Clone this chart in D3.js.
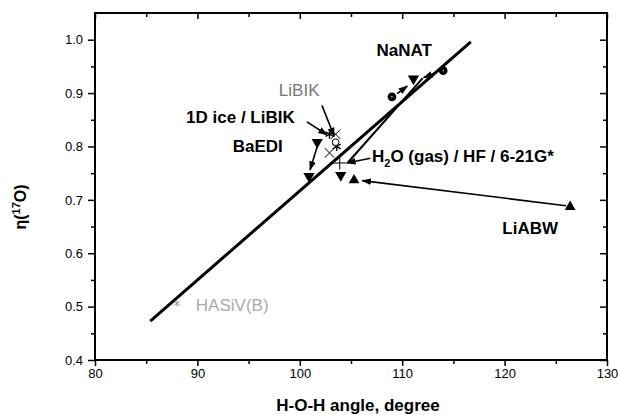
<!DOCTYPE html>
<html>
<head>
<meta charset="utf-8">
<script src="https://cdn.jsdelivr.net/npm/d3@7"></script>
<style>
  body { margin: 0; background: #fff; }
  svg { font-family: "Liberation Sans", Arial, sans-serif; }
</style>
</head>
<body>
<div id="chart"></div>
<script>
// values
const xTicks = [80, 90, 100, 110, 120, 130];
const xMinor = [85, 95, 105, 115, 125];
const yTicks = [0.4, 0.5, 0.6, 0.7, 0.8, 0.9, 1.0];
const yMinor = [0.45, 0.55, 0.65, 0.75, 0.85, 0.95];

const fitLine = [[85.4, 0.473], [116.7, 0.996]];
const calcLine = [[104.7, 0.770], [112.0, 0.928]];

const downTri = [[101.7, 0.808], [100.9, 0.744], [104.0, 0.746], [111.1, 0.927]];
const upTri = [[105.3, 0.737], [126.4, 0.687]];
const dotCircles = [[109.0, 0.893], [114.0, 0.942]];
const asterisks = [[102.9, 0.823], [103.6, 0.800]];
const crosses = [[103.5, 0.823], [102.9, 0.788]];
const openCircles = [[103.5, 0.808]];
const plusPts = [[103.9, 0.769]];
const hasivPts = [[88.0, 0.506]];

const arrows = [
  [[101.7, 0.800], [101.0, 0.756]],
  [[100.7, 0.846], [102.65, 0.822]],
  [[102.16, 0.877], [103.36, 0.819]],
  [[106.9, 0.778], [104.6, 0.769]],
  [[126.0, 0.689], [106.1, 0.736]],
  [[109.5, 0.899], [110.5, 0.913]],
  [[113.4, 0.939], [112.1, 0.929]]
];

const labels = [
  { t: "NaNAT", x: 110.2, y: 0.980, c: "#000", bold: true },
  { t: "LiBIK", x: 99.94, y: 0.905, c: "#777", bold: false },
  { t: "1D ice / LiBIK", x: 94.2, y: 0.855, c: "#000", bold: true },
  { t: "BaEDI", x: 95.9, y: 0.799, c: "#000", bold: true },
  { t: "LiABW", x: 122.5, y: 0.647, c: "#000", bold: true },
  { t: "HASiV(B)", x: 93.4, y: 0.503, c: "#aaa", bold: false }
];

const w = 618;
const h = 415;
const mLeft = 95, mRight = 607, mTop = 13, mBottom = 360;

const x = d3.scaleLinear().domain([80, 130]).range([mLeft, mRight]);
const y = d3.scaleLinear().domain([0.4, 1.05]).range([mBottom, mTop]);

const svg = d3.select('#chart')
  .append('svg')
  .attr('width', w)
  .attr('height', h);

// frame
svg.append('rect')
  .attr('x', mLeft).attr('y', mTop)
  .attr('width', mRight - mLeft).attr('height', mBottom - mTop)
  .attr('fill', 'none').attr('stroke', '#000').attr('stroke-width', 2);

function styleAxis(g) {
  g.select('.domain').remove();
  g.selectAll('line').attr('stroke', '#000').attr('stroke-width', 1.5);
  g.selectAll('text').attr('fill', '#000').style('font-size', '13px');
}

svg.append('g').attr('transform', `translate(0,${mBottom})`)
  .call(d3.axisBottom(x).tickValues(xTicks).tickSize(6).tickPadding(3).tickFormat(d3.format('d')))
  .call(styleAxis);
svg.append('g').attr('transform', `translate(0,${mBottom})`)
  .call(d3.axisBottom(x).tickValues(xMinor).tickSize(4).tickFormat(''))
  .call(styleAxis);
svg.append('g').attr('transform', `translate(0,${mTop})`)
  .call(d3.axisTop(x).tickValues(xTicks).tickSize(-6).tickFormat(''))
  .call(styleAxis);
svg.append('g').attr('transform', `translate(0,${mTop})`)
  .call(d3.axisTop(x).tickValues(xMinor).tickSize(-4).tickFormat(''))
  .call(styleAxis);

svg.append('g').attr('transform', `translate(${mLeft},0)`)
  .call(d3.axisLeft(y).tickValues(yTicks).tickSize(7).tickPadding(5).tickFormat(d3.format('.1f')))
  .call(styleAxis);
svg.append('g').attr('transform', `translate(${mLeft},0)`)
  .call(d3.axisLeft(y).tickValues(yMinor).tickSize(4).tickFormat(''))
  .call(styleAxis);
svg.append('g').attr('transform', `translate(${mRight},0)`)
  .call(d3.axisRight(y).tickValues(yTicks).tickSize(-7).tickFormat(''))
  .call(styleAxis);
svg.append('g').attr('transform', `translate(${mRight},0)`)
  .call(d3.axisRight(y).tickValues(yMinor).tickSize(-4).tickFormat(''))
  .call(styleAxis);

// axis titles
svg.append('text')
  .attr('x', 358).attr('y', 411)
  .attr('text-anchor', 'middle')
  .style('font-size', '17px').style('font-weight', 'bold')
  .text('H-O-H angle, degree');

const yl = svg.append('text')
  .attr('transform', 'translate(26,207) rotate(-90)')
  .attr('text-anchor', 'middle')
  .style('font-size', '16px').style('font-weight', 'bold');
yl.append('tspan').text('η(');
yl.append('tspan').attr('dy', -6).style('font-size', '11px').text('17');
yl.append('tspan').attr('dy', 6).text('O)');

// lines
const line = d3.line().x(d => x(d[0])).y(d => y(d[1]));
svg.append('path').datum(fitLine).attr('d', line)
  .attr('fill', 'none').attr('stroke', '#000').attr('stroke-width', 3);
svg.append('path').datum(calcLine).attr('d', line)
  .attr('fill', 'none').attr('stroke', '#000').attr('stroke-width', 2);

// arrows
svg.append('defs').append('marker')
  .attr('id', 'ah')
  .attr('viewBox', '0 0 10 10')
  .attr('refX', 9).attr('refY', 5)
  .attr('markerWidth', 6).attr('markerHeight', 6)
  .attr('orient', 'auto')
  .append('path').attr('d', 'M0,1.5L10,5L0,8.5Z').attr('fill', '#000');

svg.selectAll('.arrow').data(arrows).enter().append('line')
  .attr('class', 'arrow')
  .attr('x1', d => x(d[0][0])).attr('y1', d => y(d[0][1]))
  .attr('x2', d => x(d[1][0])).attr('y2', d => y(d[1][1]))
  .attr('stroke', '#000').attr('stroke-width', 1.6)
  .attr('marker-end', 'url(#ah)');

// markers
function pts(data, type, size, opts) {
  svg.append('g').selectAll('path').data(data).enter().append('path')
    .attr('d', d3.symbol().type(type).size(size))
    .attr('transform', d => `translate(${x(d[0])},${y(d[1])})` + (opts.rot ? ` rotate(${opts.rot})` : ''))
    .attr('fill', opts.fill || 'none')
    .attr('stroke', opts.stroke || 'none')
    .attr('stroke-width', opts.sw || 1);
}
pts(downTri, d3.symbolTriangle, 55, { fill: '#000', rot: 180 });
pts(upTri, d3.symbolTriangle, 50, { fill: '#000' });
pts(dotCircles, d3.symbolCircle, 60, { fill: '#000' });
pts(dotCircles, d3.symbolCircle, 1.5, { fill: '#fff' });
pts(asterisks, d3.symbolAsterisk, 60, { stroke: '#000', sw: 1.4 });
pts(crosses, d3.symbolTimes, 60, { stroke: '#000', sw: 1 });
pts(openCircles, d3.symbolCircle, 35, { fill: '#fff', stroke: '#000', sw: 1 });
pts(plusPts, d3.symbolPlus, 60, { stroke: '#000', sw: 1 });
pts(hasivPts, d3.symbolAsterisk, 30, { stroke: '#999', sw: 1 });

// labels
svg.selectAll('.lab').data(labels).enter().append('text')
  .attr('class', 'lab')
  .attr('x', d => x(d.x)).attr('y', d => y(d.y))
  .attr('text-anchor', 'middle')
  .attr('dominant-baseline', 'central')
  .attr('fill', d => d.c)
  .style('font-size', '17px')
  .style('font-weight', d => d.bold ? 'bold' : 'normal')
  .text(d => d.t);

const h2o = svg.append('text')
  .attr('x', x(107.05)).attr('y', y(0.783) + 6)
  .style('font-size', '17px').style('font-weight', 'bold');
h2o.append('tspan').text('H');
h2o.append('tspan').attr('dy', 5).style('font-size', '11px').text('2');
h2o.append('tspan').attr('dy', -5).text('O (gas) / HF / 6-21G*');
</script>
</body>
</html>
